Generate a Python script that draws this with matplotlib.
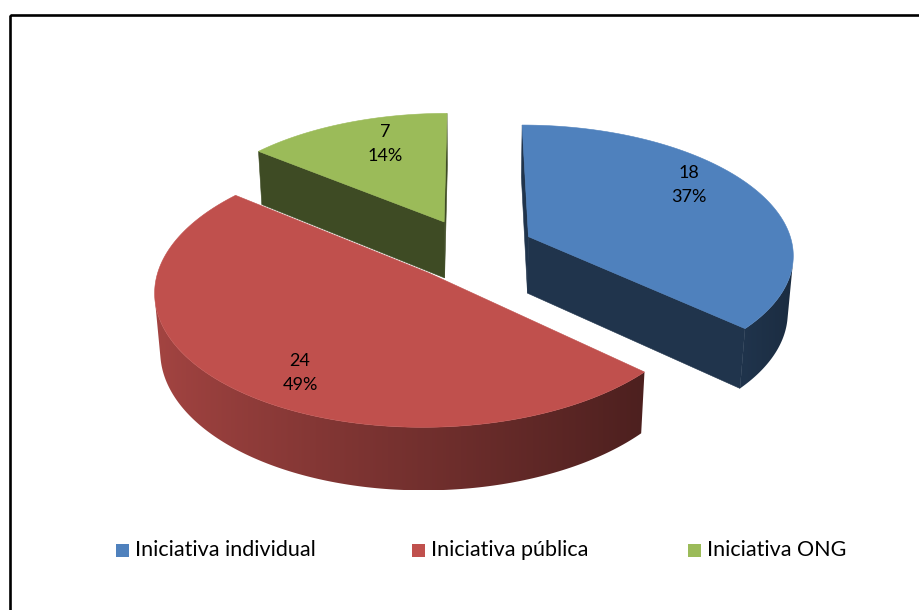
import numpy as np
import matplotlib
matplotlib.use("Agg")
import matplotlib.pyplot as plt
from matplotlib.patches import Polygon, Rectangle
from matplotlib.colors import to_rgb

# data
categories = ["Iniciativa individual", "Iniciativa pública", "Iniciativa ONG"]
counts = [18, 24, 7]
top_colors = ["#4F81BD", "#C0504D", "#9BBB59"]

# legend layout (pixel x of each square)
legend_x = [116, 412, 688]
legend_y = 550

# label nudges in pixels (Excel puts them a bit off the radial line)
label_nudge = [(18, -21), (-10, 32), (4, -14)]

# 3-D view of the pie (pixel coordinates, y down)
CX, CY = 471, 249
SCALE = 265
ELEV = np.radians(29)
DIST = 7.0
THICK = 0.25
EXPLODE = 0.24
LABEL_R = 0.62

FONT = ["Lato", "DejaVu Sans"]


def project(x, y, z):
    v = y * np.cos(ELEV) - z * np.sin(ELEV)
    w = y * np.sin(ELEV) + z * np.cos(ELEV)
    s = DIST / (DIST - w)
    return np.column_stack([CX + SCALE * x * s, CY - SCALE * v * s])


cam = np.array([0.0, DIST * np.sin(ELEV), DIST * np.cos(ELEV)])


def visible(normal, point):
    return np.dot(normal, cam - point) > 0


def shade(color, f):
    r, g, b = to_rgb(color)
    return (r * f, g * f, b * f)


fig = plt.figure(figsize=(9.2, 6.1), dpi=100)
ax = fig.add_axes([0, 0, 1, 1])
ax.set_xlim(0, 920)
ax.set_ylim(610, 0)
ax.axis("off")

# outer frame (cut by the page on the right and bottom)
ax.add_patch(Rectangle((10, 14.5), 1000, 700, fill=False, lw=1.9, ec="black"))

total = float(sum(counts))
fracs = np.array(counts) / total
bounds = np.concatenate([[0], np.cumsum(fracs)]) * 2 * np.pi

slices = []
for i in range(len(counts)):
    a0, a1 = bounds[i], bounds[i + 1]
    mid = 0.5 * (a0 + a1)
    ox, oz = EXPLODE * np.sin(mid), -EXPLODE * np.cos(mid)
    slices.append((oz, i, a0, a1, mid, ox))

for oz, i, a0, a1, mid, ox in sorted(slices):
    col = top_colors[i]
    th = np.linspace(a0, a1, 200)
    rx = ox + np.sin(th)
    rz = oz - np.cos(th)

    # flat cut faces
    for ang, sign in ((a0, -1), (a1, 1)):
        n = sign * np.array([np.cos(ang), 0, np.sin(ang)])
        ex, ez = ox + np.sin(ang), oz - np.cos(ang)
        p = np.array([0.5 * (ox + ex), -THICK / 2, 0.5 * (oz + ez)])
        if visible(n, p):
            pts = project(np.array([ox, ex, ex, ox]),
                          np.array([0, 0, -THICK, -THICK]),
                          np.array([oz, ez, ez, oz]))
            ax.add_patch(Polygon(pts, closed=True, fc=shade(col, 0.40),
                                 ec=shade(col, 0.40), lw=0.4))

    # curved rim, lit from the left: one polygon filled with a gradient
    tm = 0.5 * (th[:-1] + th[1:])
    vis = [visible(np.array([np.sin(t), 0, -np.cos(t)]),
                   np.array([ox + np.sin(t), -THICK / 2, oz - np.cos(t)]))
           for t in tm]
    idx = np.nonzero(vis)[0]
    if len(idx):
        k0, k1 = idx[0], idx[-1] + 1
        sx, sz = rx[k0:k1 + 1], rz[k0:k1 + 1]
        up = project(sx, np.zeros_like(sx), sz)
        dn = project(sx, np.full_like(sx, -THICK), sz)
        rim = np.vstack([up, dn[::-1]])
        f = 0.33 + 0.53 * (1 - np.sin(th[k0:k1 + 1])) / 2
        order = np.argsort(up[:, 0])
        xg = np.linspace(rim[:, 0].min(), rim[:, 0].max(), 300)
        fg = np.interp(xg, up[order, 0], f[order])
        base = np.array(to_rgb(col))
        img = (fg[:, None] * base[None, :])[None, :, :]
        patch = Polygon(rim, closed=True, fc="none", ec="none")
        ax.add_patch(patch)
        im = ax.imshow(img, extent=[xg[0], xg[-1], rim[:, 1].max(),
                                    rim[:, 1].min()],
                       aspect="auto", interpolation="bilinear")
        im.set_clip_path(patch)
        ax.set_xlim(0, 920)
        ax.set_ylim(610, 0)

    # top face
    pts = project(np.concatenate([[ox], rx]), np.zeros(len(th) + 1),
                  np.concatenate([[oz], rz]))
    ax.add_patch(Polygon(pts, closed=True, fc=col, ec=col, lw=0.4,
                         zorder=3))

    # data label
    lp = project(np.array([ox + LABEL_R * np.sin(mid)]), np.array([0.0]),
                 np.array([oz - LABEL_R * np.cos(mid)]))[0]
    pct = int(round(100 * counts[i] / total))
    ax.text(lp[0] + label_nudge[i][0], lp[1] + label_nudge[i][1],
            f"{counts[i]}\n{pct}%", ha="center", va="center",
            fontsize=13, family=FONT, linespacing=1.6, color="black",
            zorder=10)

# legend
for i, name in enumerate(categories):
    ax.add_patch(Rectangle((legend_x[i], legend_y - 6.5), 13, 13,
                           fc=top_colors[i], ec="none"))
    ax.text(legend_x[i] + 19, legend_y, name, ha="left", va="center",
            fontsize=15.5, family=FONT, color="black")

fig.savefig("out.png", dpi=100)
